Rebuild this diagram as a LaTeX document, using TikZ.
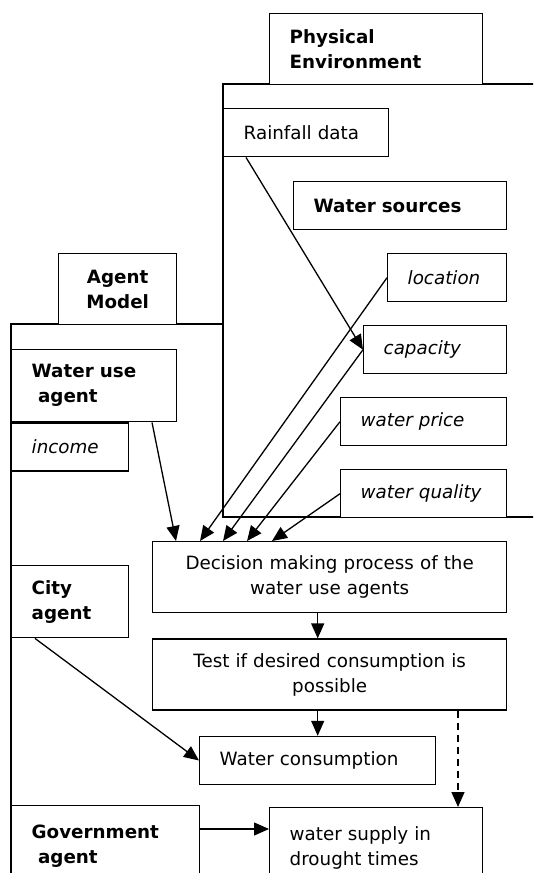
\documentclass[tikz,border=0pt]{standalone}
\usepackage{fontspec}
\setmainfont{DejaVu Sans}
\usetikzlibrary{arrows.meta,positioning}

\begin{document}
\begin{tikzpicture}[x=1pt, y=-1pt,
    plainbox/.style={rectangle, draw, fill=white, line width=1.4pt, anchor=north west,
        inner xsep=20pt, inner ysep=0pt, align=left, font=\fontsize{18.3}{25}\selectfont},
    namebox/.style={plainbox, font=\fontsize{18.3}{25}\selectfont\bfseries},
    attrbox/.style={plainbox, font=\fontsize{18.3}{25}\selectfont\itshape},
    procbox/.style={plainbox, align=center},
    arr/.style={line width=1.3pt, -{Triangle[length=15pt, width=13pt]}}]
    \useasboundingbox (0,0) rectangle (533,873);
    \clip (0,0) rectangle (533,873);

    % Frames
    \draw[fill=white, line width=1.4pt] (223,84) rectangle (545,517);
    \draw[line width=1.4pt] (223,324) -- (11,324) -- (11,880);

    % Physical Environment
    \node[namebox, text width=173pt, minimum height=71pt] (phys) at (269,13) {Physical\\Environment};
    \node[plainbox, text width=125pt, minimum height=48pt] (rain) at (223,108) {Rainfall data};
    \node[namebox, text width=173pt, minimum height=48pt] (sources) at (293,181) {Water sources};
    \node[attrbox, text width=79pt, minimum height=48pt] (location) at (387,253) {location};
    \node[attrbox, text width=103pt, minimum height=48pt] (capacity) at (363,325) {capacity};
    \node[attrbox, text width=126pt, minimum height=48pt] (price) at (340,397) {water price};
    \node[attrbox, text width=126pt, minimum height=48pt] (quality) at (340,469) {water quality};

    % Agent Model
    \node[namebox, align=center, text width=78pt, minimum height=71pt] (agentmodel) at (58,253) {Agent\\Model};
    \node[namebox, text width=125pt, minimum height=72pt] (wateruse) at (11,349) {Water use\\\hspace*{0.35em}agent};
    \node[attrbox, text width=77pt, minimum height=48pt] (income) at (wateruse.south west) {income};
    \node[namebox, text width=77pt, minimum height=72pt] (city) at (11,565) {City\\agent};
    \node[namebox, text width=148pt, minimum height=80pt] (government) at (11,805) {Government\\\hspace*{0.35em}agent};

    % Process
    \node[procbox, text width=314pt, minimum height=71pt] (decision) at (152,541) {Decision making process of the\\water use agents};
    \node[procbox, text width=314pt, minimum height=71pt, below=25pt of decision] (test) {Test if desired consumption is\\possible};
    \node[plainbox, text width=196pt, minimum height=48pt, below=25pt of test, xshift=-12pt] (consumption) {Water consumption};
    \node[plainbox, text width=173pt, minimum height=80pt] (supply) at (269,807) {water supply in\\drought times};

    % Arrows
    \draw[arr] ([xshift=23pt]rain.south west) -- (capacity.west);
    \draw[arr] (location.west) -- ([xshift=48pt]decision.north west);
    \draw[arr] (capacity.west) -- ([xshift=71pt]decision.north west);
    \draw[arr] (price.west) -- ([xshift=95pt]decision.north west);
    \draw[arr] (quality.west) -- ([xshift=120pt]decision.north west);
    \draw[arr] ([xshift=141pt]wateruse.south west) -- ([xshift=24pt]decision.north west);
    \draw[arr] ([xshift=-12pt]decision.south) -- ([xshift=-12pt]test.north);
    \draw[arr] ([xshift=-12pt]test.south) -- (consumption.north);
    \draw[arr] ([xshift=24pt]city.south west) -- (consumption.west);
    \draw[arr, dash pattern=on 7pt off 5pt] ([xshift=306pt]test.south west) -- ([xshift=306pt]test.south west |- supply.north);
    \draw[arr] ([yshift=-24pt]government.north east) -- ([yshift=-24pt]government.north east -| supply.west);
\end{tikzpicture}
\end{document}
